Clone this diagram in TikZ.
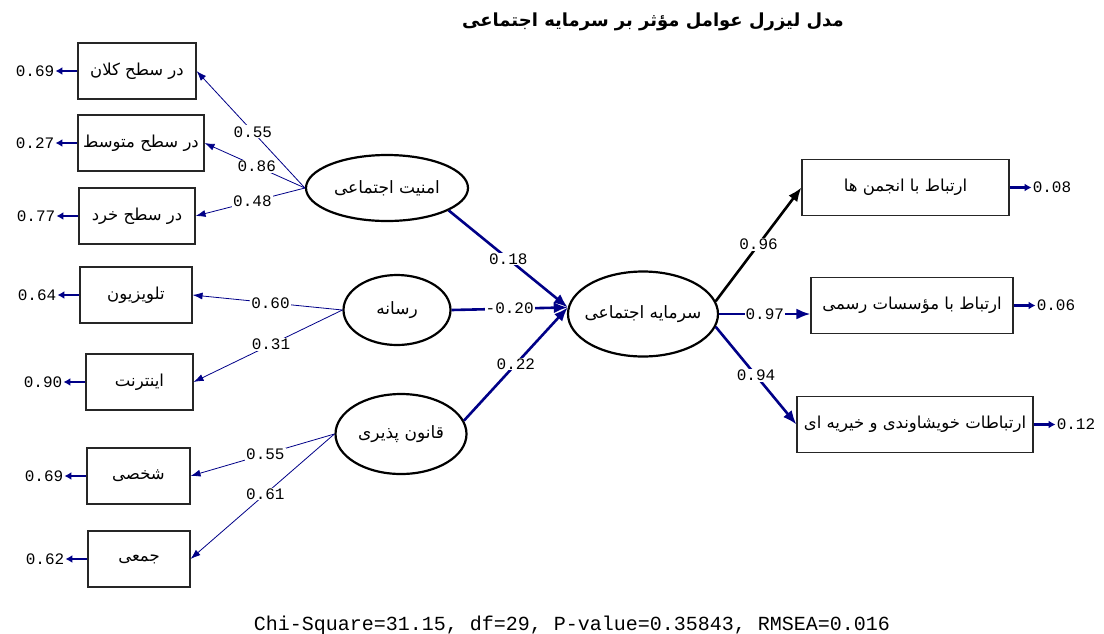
\documentclass[tikz,border=0pt]{standalone}
\usepackage{fontspec}
\usetikzlibrary{shapes.geometric,arrows.meta,positioning}
\TeXXeTstate=1
\newfontfamily\fa[Script=Arabic]{DejaVu Sans}
\newfontfamily\num{Liberation Mono}
\definecolor{lisrel}{RGB}{0,0,135}
\newcommand{\fatext}[1]{{\fa\beginR#1\endR}}
\newcommand{\latext}[1]{\makebox[0pt]{\fatext{#1}}}

\begin{document}
\begin{tikzpicture}[x=1pt,y=-1pt,
    obs/.style={draw=black!85,line width=1.1pt,minimum height=56pt,inner sep=0pt,
        font=\fontsize{16.5}{18}\selectfont},
    lat/.style={ellipse,draw=black,line width=2.2pt,inner sep=0pt,
        font=\fontsize{17}{19}\selectfont},
    coef/.style={fill=white,text=black,inner sep=1pt,font={\num\fontsize{16}{16}\selectfont}},
    errlab/.style={inner sep=1pt,font={\num\fontsize{16}{16}\selectfont}},
    load/.style={lisrel,line width=0.8pt,-{Latex[length=10pt,width=7pt]}},
    struct/.style={lisrel,line width=2.6pt,-{Latex[length=14pt,width=11pt]}},
    err/.style={lisrel,line width=2.4pt,-{Latex[length=7pt,width=8pt]}}]
  \useasboundingbox (0,0) rectangle (1104,633);

  \node (title) at (653,22) {\fa\bfseries\fontsize{18}{20}\selectfont
    \beginR مدل لیزرل عوامل مؤثر بر سرمایه اجتماعی\endR};

  \foreach \n/\x/\y/\w/\t/\e in {
      b1/137/71/118/{در سطح کلان}/0.69,
      b2/141/143/126/{در سطح متوسط}/0.27,
      b3/137/216/116/{در سطح خرد}/0.77,
      b4/136/295/112/{تلویزیون}/0.64,
      b5/139.5/382/107/{اینترنت}/0.90,
      b6/138.5/476/103/{شخصی}/0.69,
      b7/139/559/102/{جمعی}/0.62} {
      \node[obs,minimum width=\w pt] (\n) at (\x,\y) {\fatext{\t}};
      \node[errlab,left=22pt of \n] (e\n) {\e};
      \draw[err] (\n) -- (e\n);
    }

  \node[lat,minimum width=162pt,minimum height=66pt] (amn) at (387,188)
    {\latext{امنیت اجتماعی}};
  \node[lat,minimum width=107pt,minimum height=70pt] (rsn) at (397,310)
    {\latext{رسانه}};
  \node[lat,minimum width=131pt,minimum height=80pt] (qan) at (401,434)
    {\latext{قانون پذیری}};
  \node[lat,minimum width=150pt,minimum height=85pt] (srm) at (643,314)
    {\latext{سرمایه اجتماعی}};

  \foreach \n/\x/\y/\w/\t/\e in {
      r1/905.5/187.5/207/{ارتباط با انجمن ها}/0.08,
      r2/912/305.5/202/{ارتباط با مؤسسات رسمی}/0.06,
      r3/915/424.5/236/{ارتباطات خویشاوندی و خیریه ای}/0.12} {
      \node[obs,minimum width=\w pt] (\n) at (\x,\y) {\latext{\t}};
      \node[errlab,right=22pt of \n] (e\n) {\e};
      \draw[err] (\n) -- (e\n);
    }

  \foreach \a/\b/\v in {amn/b1/0.55,amn/b2/0.86,amn/b3/0.48,
      rsn/b4/0.60,rsn/b5/0.31,qan/b6/0.55,qan/b7/0.61} {
      \draw[load] (\a.west) -- node[coef,pos=0.48] {\v} (\b.east);
    }

  \draw[struct] (amn.-20) -- node[coef] {0.18} (srm.175);
  \draw[struct] (rsn.east) -- node[coef] {-0.20} (srm.175);
  \draw[struct] (qan.12) -- node[coef] {0.22} (srm.175);

  \draw[struct,black] (srm.10) -- node[coef] {0.96} (r1.west);
  \draw[struct] (srm.east) -- node[coef] {0.97} (srm.east -| r2.west);
  \draw[struct] (srm.-10) -- node[coef] {0.94} (r3.west);

  \node[anchor=base,font={\num\fontsize{20}{20}\selectfont}] (fit) at (572,630)
    {Chi-Square=31.15, df=29, P-value=0.35843, RMSEA=0.016};
\end{tikzpicture}
\end{document}
